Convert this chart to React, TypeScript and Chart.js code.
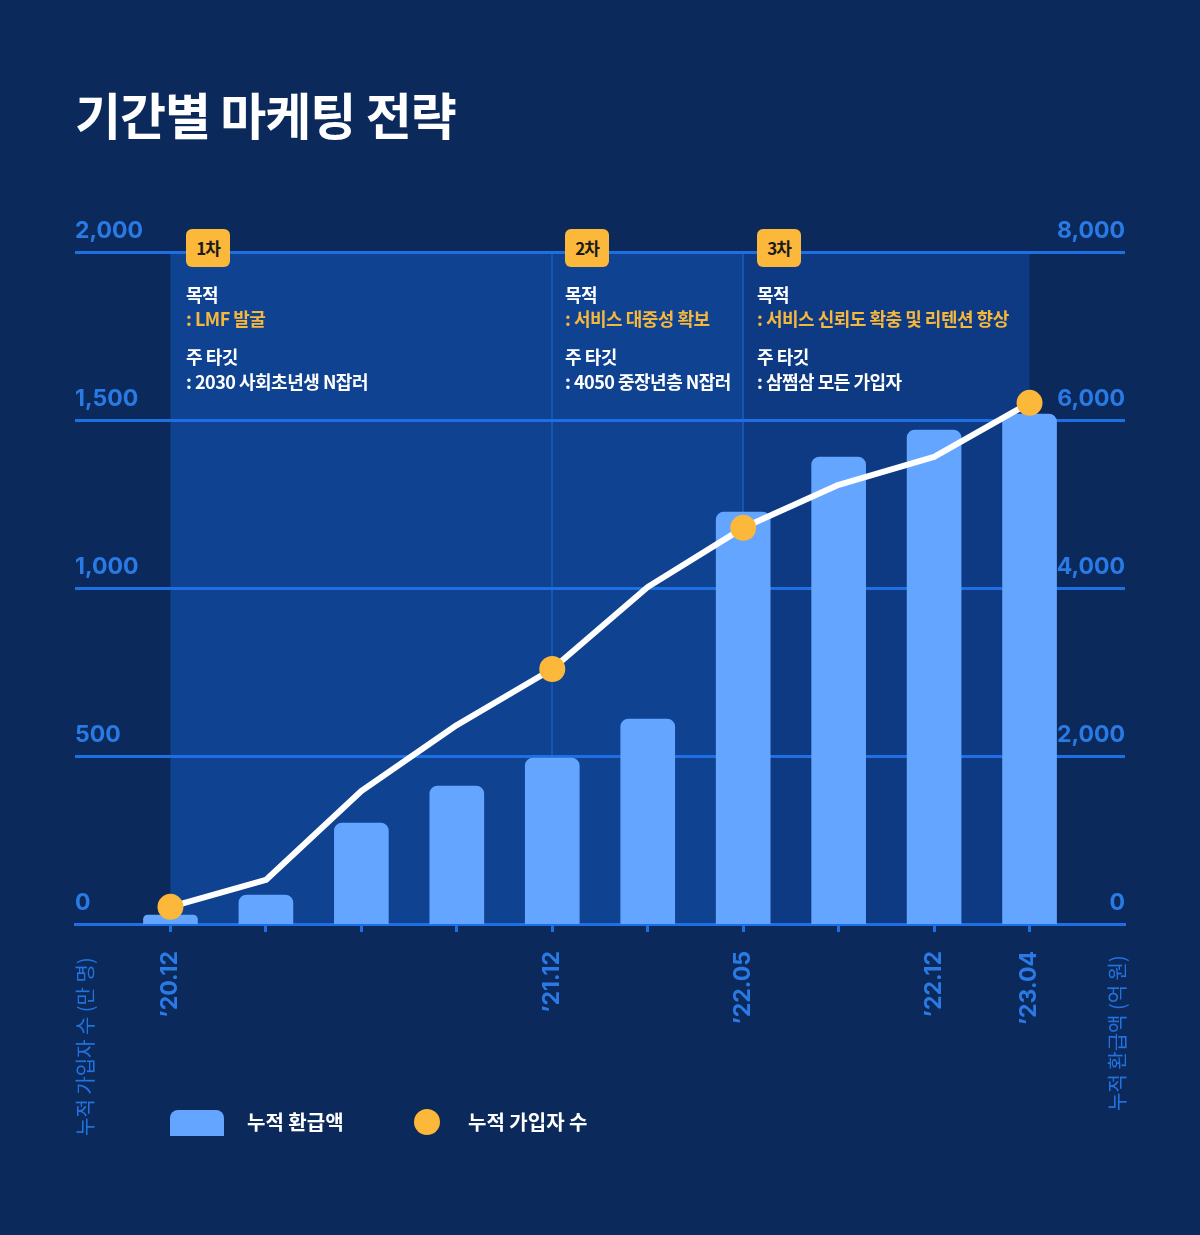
import React, { useEffect, useRef } from "react";
import { Chart, registerables } from "chart.js";

Chart.register(...registerables);

// ---------- data ----------
const categories = ["’20.12", "", "", "", "’21.12", "", "’22.05", "", "’22.12", "’23.04"];
const subscribers = [51, 131, 396, 592, 759, 1003, 1179, 1307, 1390, 1551]; // 누적 가입자 수 (만 명)
const refunds = [107, 345, 1202, 1643, 1976, 2440, 4905, 5560, 5881, 6071]; // 누적 환급액 (억 원)
const markedPoints = [true, false, false, false, true, false, true, false, false, true];
const leftTicks = { min: 0, max: 2000, step: 500 };
const rightTicks = { min: 0, max: 8000, step: 2000 };

const phases = [
  { badge: "1차", start: 0, goal: ": LMF 발굴", target: ": 2030 사회초년생 N잡러" },
  { badge: "2차", start: 4, goal: ": 서비스 대중성 확보", target: ": 4050 중장년층 N잡러" },
  { badge: "3차", start: 6, goal: ": 서비스 신뢰도 확충 및 리텐션 향상", target: ": 삼쩜삼 모든 가입자" },
];
const phaseEnd = 9;

// ---------- styles ----------
const BG = "#0b2a5b";
const GRID = "#1e6fe3";
const TICK_TEXT = "#2a7ae6";
const BAR = "#64a5ff";
const DOT = "#fbb83a";
const KR = "'Noto Sans CJK KR', 'Noto Sans', sans-serif";

const pad = <T,>(arr: T[], fill: T): T[] => [fill, ...arr, fill];

const bandPlugin = {
  id: "bands",
  beforeDraw(chart: any) {
    const { ctx, chartArea, scales } = chart;
    const x = scales.x;
    const colors = ["#0f4391", "#0f4391", "#0d3a82"];
    ctx.save();
    phases.forEach((p, i) => {
      const s = x.getPixelForValue(p.start + 1);
      const endIdx = i < phases.length - 1 ? phases[i + 1].start : phaseEnd;
      const e = x.getPixelForValue(endIdx + 1);
      ctx.fillStyle = colors[i];
      ctx.fillRect(s, chartArea.top, e - s, chartArea.bottom - chartArea.top);
    });
    ctx.strokeStyle = "#1855b0";
    ctx.lineWidth = 2;
    phases.slice(1).forEach((p) => {
      const px = Math.round(x.getPixelForValue(p.start + 1));
      ctx.beginPath();
      ctx.moveTo(px, chartArea.top);
      ctx.lineTo(px, chartArea.bottom);
      ctx.stroke();
    });
    ctx.restore();
  },
};

export default function App() {
  const canvasRef = useRef<HTMLCanvasElement | null>(null);

  useEffect(() => {
    document.body.style.margin = "0";
    const canvas = canvasRef.current;
    if (!canvas) return;
    const labels = pad(categories, "");
    const chart = new Chart(canvas, {
      type: "bar",
      data: {
        labels,
        datasets: [
          {
            type: "line",
            label: "누적 가입자 수",
            data: pad<number | null>(subscribers, null),
            yAxisID: "y",
            borderColor: "#ffffff",
            borderWidth: 6,
            borderCapStyle: "round",
            borderJoinStyle: "round",
            tension: 0,
            pointRadius: pad(markedPoints.map((m) => (m ? 13 : 0)), 0),
            pointHoverRadius: pad(markedPoints.map((m) => (m ? 13 : 0)), 0),
            pointBackgroundColor: DOT,
            pointBorderWidth: 0,
            order: 0,
          } as any,
          {
            type: "bar",
            label: "누적 환급액",
            data: pad<number | null>(refunds, null),
            yAxisID: "y1",
            backgroundColor: BAR,
            barThickness: 54,
            borderRadius: { topLeft: 8, topRight: 8, bottomLeft: 0, bottomRight: 0 },
            borderSkipped: "start",
            order: 1,
          } as any,
        ],
      },
      options: {
        responsive: false,
        animation: false,
        events: [],
        layout: { padding: { left: 75, right: 75, top: 252, bottom: 211 } },
        plugins: { legend: { display: false }, tooltip: { enabled: false } },
        scales: {
          x: {
            offset: false,
            afterFit: (s: any) => { s.height = 100; },
            grid: {
              display: true,
              offset: false,
              drawOnChartArea: false,
              drawTicks: true,
              tickLength: 8,
              tickWidth: 3,
              tickColor: (c: any) => (c.index === 0 || c.index === labels.length - 1 ? "rgba(0,0,0,0)" : GRID),
            },
            border: { display: true, color: GRID, width: 3 },
            ticks: {
              autoSkip: false,
              minRotation: 90,
              maxRotation: 90,
              padding: 19,
              color: TICK_TEXT,
              font: { family: "Inter", weight: "bold", size: 23 },
            },
          },
          y: {
            position: "left",
            min: leftTicks.min,
            max: leftTicks.max,
            afterFit: (s: any) => { s.width = 0; },
            grid: { color: GRID, lineWidth: 3, drawTicks: false },
            border: { display: false },
            ticks: {
              stepSize: leftTicks.step,
              mirror: true,
              padding: 0,
              labelOffset: -21,
              color: TICK_TEXT,
              font: { family: "Inter", weight: "bold", size: 23 },
              callback: (v: any) => Number(v).toLocaleString("en-US"),
            },
          },
          y1: {
            position: "right",
            min: rightTicks.min,
            max: rightTicks.max,
            afterFit: (s: any) => { s.width = 0; },
            grid: { display: false, drawTicks: false },
            border: { display: false },
            ticks: {
              stepSize: rightTicks.step,
              mirror: true,
              padding: 0,
              labelOffset: -21,
              color: TICK_TEXT,
              font: { family: "Inter", weight: "bold", size: 23 },
              callback: (v: any) => Number(v).toLocaleString("en-US"),
            },
          },
        },
      } as any,
      plugins: [bandPlugin],
    });
    return () => chart.destroy();
  }, []);

  const phaseX = [186, 565, 757];
  const txt = { position: "absolute" as const, fontSize: 18, fontWeight: 700, lineHeight: "22px", whiteSpace: "nowrap" as const, letterSpacing: -0.5 };

  return (
    <div style={{ position: "absolute", left: 0, top: 0, width: 1200, height: 1235, background: BG, overflow: "hidden", fontFamily: KR }}>
      <canvas ref={canvasRef} width={1200} height={1235} style={{ position: "absolute", left: 0, top: 0, width: 1200, height: 1235 }} />
      <div style={{ position: "absolute", left: 75, top: 84, color: "#fff", fontSize: 50, fontWeight: 700, letterSpacing: -1, lineHeight: "58px", whiteSpace: "nowrap" }}>
        기간별 마케팅 전략
      </div>
      {phases.map((p, i) => (
        <React.Fragment key={p.badge}>
          <div style={{ position: "absolute", left: phaseX[i], top: 229, width: 44, height: 38, borderRadius: 6, background: DOT, color: "#1b1b1b", fontSize: 17, fontWeight: 700, lineHeight: "38px", textAlign: "center", letterSpacing: -1 }}>
            {p.badge}
          </div>
          <div style={{ ...txt, left: phaseX[i], top: 283, color: "#fff" }}>목적</div>
          <div style={{ ...txt, left: phaseX[i], top: 307, color: "#f6b73c" }}>{p.goal}</div>
          <div style={{ ...txt, left: phaseX[i], top: 345, color: "#fff" }}>주 타깃</div>
          <div style={{ ...txt, left: phaseX[i], top: 370, color: "#fff" }}>{p.target}</div>
        </React.Fragment>
      ))}
      <div style={{ position: "absolute", left: 75, top: 1136, transformOrigin: "left top", transform: "rotate(-90deg)", color: "#2273e0", fontSize: 20, lineHeight: "20px", whiteSpace: "nowrap" }}>
        누적 가입자 수 (만 명)
      </div>
      <div style={{ position: "absolute", left: 1107, top: 1111, transformOrigin: "left top", transform: "rotate(-90deg)", color: "#2273e0", fontSize: 20, lineHeight: "20px", whiteSpace: "nowrap" }}>
        누적 환급액 (억 원)
      </div>
      <div style={{ position: "absolute", left: 170, top: 1110, width: 54, height: 26, background: BAR, borderRadius: "8px 8px 0 0" }} />
      <div style={{ position: "absolute", left: 247, top: 1109, color: "#fff", fontSize: 20, fontWeight: 700, lineHeight: "26px", whiteSpace: "nowrap" }}>누적 환급액</div>
      <div style={{ position: "absolute", left: 414, top: 1109, width: 26, height: 26, borderRadius: 13, background: DOT }} />
      <div style={{ position: "absolute", left: 468, top: 1109, color: "#fff", fontSize: 20, fontWeight: 700, lineHeight: "26px", whiteSpace: "nowrap" }}>누적 가입자 수</div>
    </div>
  );
}
